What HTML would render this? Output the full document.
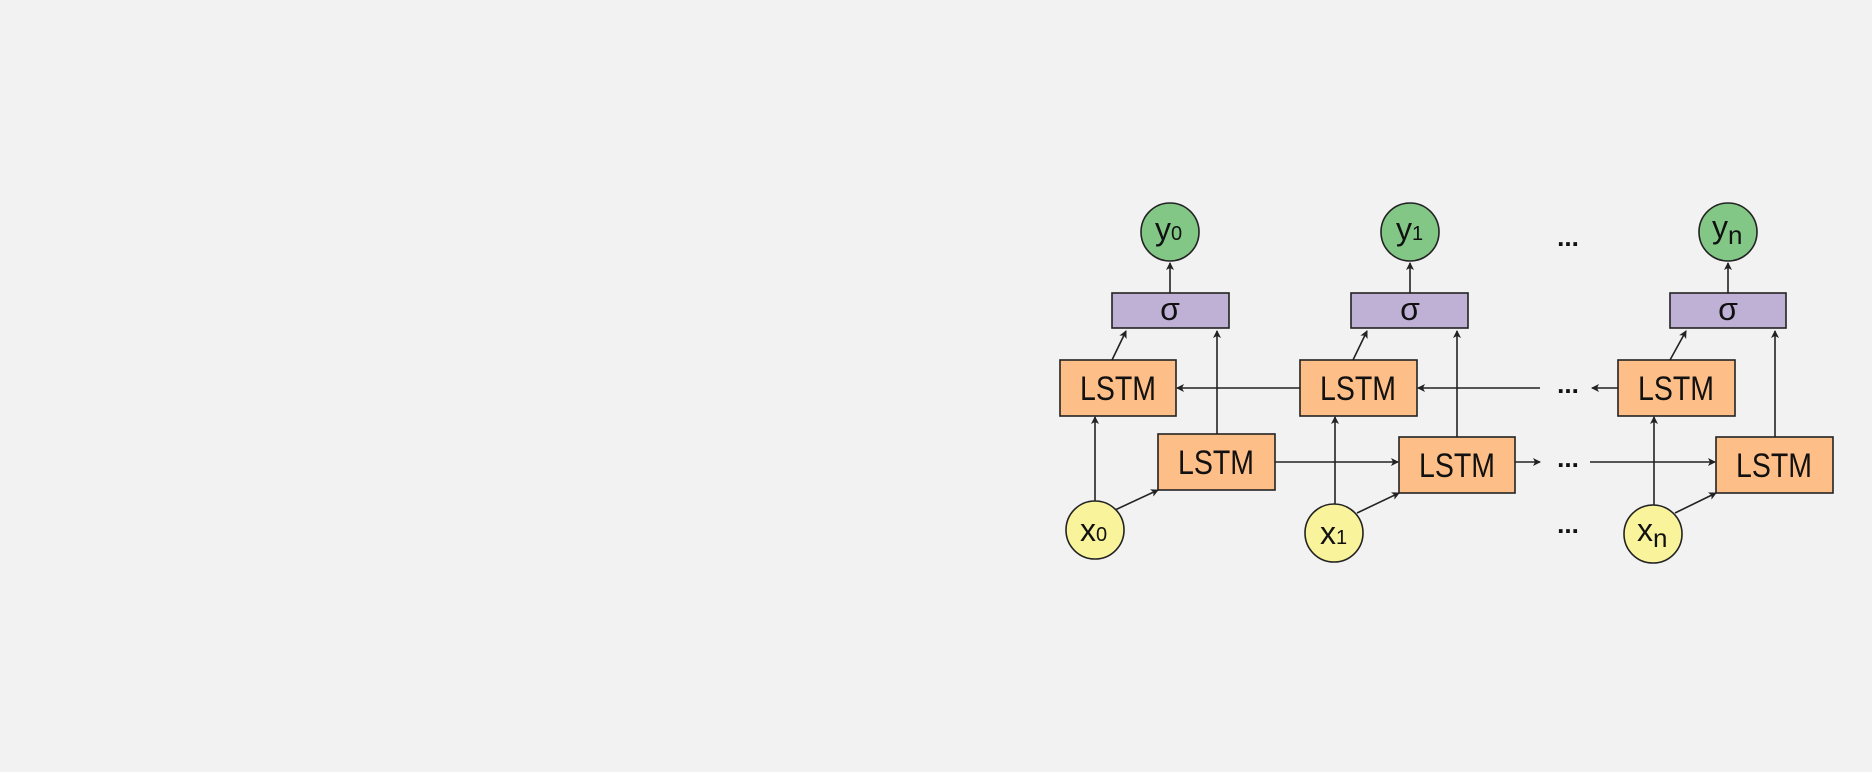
<!DOCTYPE html>
<html><head><meta charset="utf-8"><style>
html,body{margin:0;padding:0;background:#f2f2f2;}
svg{display:block}
text{font-family:"Liberation Sans","DejaVu Sans",sans-serif;fill:#111;}
</style></head><body>
<svg width="1872" height="772" viewBox="0 0 1872 772" xmlns="http://www.w3.org/2000/svg">
<defs>
<marker id="a" markerWidth="8" markerHeight="8" refX="7" refY="4" orient="auto" markerUnits="userSpaceOnUse">
<path d="M0,0 L8,4 L0,8 L2,4 Z" fill="#222"/></marker>
</defs>
<rect width="1872" height="772" fill="#f2f2f2"/>
<g stroke="#222" stroke-width="1.6" fill="none" marker-end="url(#a)">
<line x1="1170" y1="293" x2="1170" y2="263"/>
<line x1="1410" y1="293" x2="1410" y2="263"/>
<line x1="1728" y1="293" x2="1728" y2="263"/>
<line x1="1112" y1="360" x2="1126" y2="331"/>
<line x1="1353" y1="360" x2="1367" y2="331"/>
<line x1="1670" y1="360" x2="1686" y2="331"/>
<line x1="1217" y1="434" x2="1217" y2="331"/>
<line x1="1457" y1="437" x2="1457" y2="331"/>
<line x1="1775" y1="437" x2="1775" y2="331"/>
<line x1="1300" y1="388" x2="1177" y2="388"/>
<line x1="1540" y1="388" x2="1418" y2="388"/>
<line x1="1618" y1="388" x2="1592" y2="388"/>
<line x1="1275" y1="462" x2="1398" y2="462"/>
<line x1="1515" y1="462" x2="1540" y2="462"/>
<line x1="1590" y1="462" x2="1715" y2="462"/>
<line x1="1095" y1="501" x2="1095" y2="417"/>
<line x1="1335" y1="504" x2="1335" y2="417"/>
<line x1="1654" y1="505" x2="1654" y2="417"/>
<line x1="1115" y1="510" x2="1158" y2="490"/>
<line x1="1357" y1="513" x2="1399" y2="493"/>
<line x1="1675" y1="513" x2="1716" y2="493"/>
</g>
<g stroke="#222" stroke-width="1.6">
<rect x="1112" y="293" width="117" height="35" fill="#bfb0d6"/>
<rect x="1351" y="293" width="117" height="35" fill="#bfb0d6"/>
<rect x="1670" y="293" width="116" height="35" fill="#bfb0d6"/>
<rect x="1060" y="360" width="116" height="56" fill="#fdbf87"/>
<rect x="1300" y="360" width="117" height="56" fill="#fdbf87"/>
<rect x="1618" y="360" width="117" height="56" fill="#fdbf87"/>
<rect x="1158" y="434" width="117" height="56" fill="#fdbf87"/>
<rect x="1399" y="437" width="116" height="56" fill="#fdbf87"/>
<rect x="1716" y="437" width="117" height="56" fill="#fdbf87"/>
<circle cx="1170" cy="232" r="29" fill="#82c785"/>
<circle cx="1410" cy="232" r="29" fill="#82c785"/>
<circle cx="1728" cy="232" r="29" fill="#82c785"/>
<circle cx="1095" cy="530" r="29" fill="#f9f49c"/>
<circle cx="1334" cy="533" r="29" fill="#f9f49c"/>
<circle cx="1653" cy="534" r="29" fill="#f9f49c"/>
</g>
<g font-size="32" text-anchor="middle">
<text x="1170" y="320">σ</text>
<text x="1410" y="320">σ</text>
<text x="1728" y="320">σ</text>
</g>
<g font-size="34">
<text x="1080" y="400" textLength="76" lengthAdjust="spacingAndGlyphs">LSTM</text>
<text x="1320" y="400" textLength="76" lengthAdjust="spacingAndGlyphs">LSTM</text>
<text x="1638" y="400" textLength="76" lengthAdjust="spacingAndGlyphs">LSTM</text>
<text x="1178" y="474" textLength="76" lengthAdjust="spacingAndGlyphs">LSTM</text>
<text x="1419" y="477" textLength="76" lengthAdjust="spacingAndGlyphs">LSTM</text>
<text x="1736" y="477" textLength="76" lengthAdjust="spacingAndGlyphs">LSTM</text>
</g>
<g font-size="32">
<text x="1155" y="240">y<tspan font-size="20">0</tspan></text>
<text x="1396" y="240">y<tspan font-size="20">1</tspan></text>
<text x="1712" y="238">y<tspan font-size="26" dy="6">n</tspan></text>
<text x="1080" y="541">x<tspan font-size="20">0</tspan></text>
<text x="1320" y="544">x<tspan font-size="20">1</tspan></text>
<text x="1637" y="541">x<tspan font-size="26" dy="6">n</tspan></text>
</g>
<g font-size="26" font-weight="bold" text-anchor="middle">
<text x="1568" y="246">...</text>
<text x="1568" y="393">...</text>
<text x="1568" y="467">...</text>
<text x="1568" y="533">...</text>
</g>
</svg>
</body></html>
